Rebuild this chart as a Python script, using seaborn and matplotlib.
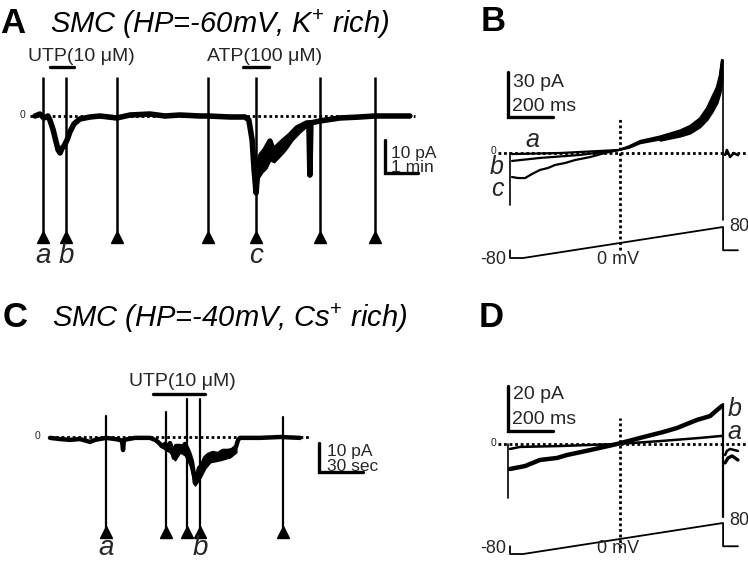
import matplotlib
matplotlib.use("Agg")
import matplotlib.pyplot as plt
import numpy as np
import seaborn as sns

# ---------------- data ----------------
# Panel A: holding current (min, pA)
A_time = [0, 0.15, 0.27, 0.39, 0.45, 0.55, 0.64, 0.70, 0.76, 0.82, 0.88, 0.97, 1.06, 1.18, 1.36,
          1.67, 1.97, 2.48, 2.88, 3.48, 3.94, 4.39, 5.0, 5.24, 5.91, 6.36, 6.48, 6.58, 6.64, 6.70,
          6.76, 6.85, 6.97, 7.12, 7.21, 7.33, 7.52, 7.73, 7.94, 8.24, 8.30, 8.33, 8.36, 8.64, 9.24,
          9.85, 10.30, 10.76, 11.36]
A_curr = [0, 0.6, -0.6, 0, -1.2, -4.2, -7.9, -10.3, -11.2, -9.7, -9.1, -7.3, -4.8, -2.4, -0.9,
          -0.3, 0, -0.6, 0.3, 0.6, 0, 0.3, 0, 0, -0.3, -0.3, -1.2, -7.3, -16.4, -23.3,
          -14.8, -11.8, -10.3, -7.6, -10.3, -9.4, -7.6, -5.8, -3.6, -2.1, -2.1, -17.9, -2.1, -1.5, -0.6,
          -0.3, 0, 0, 0]
# lower edge of the noisy band during the ATP response
A_low_time = [6.70, 6.76, 6.88, 7.00, 7.12, 7.24, 7.36, 7.58, 7.79, 8.03, 8.24]
A_low_curr = [-23.3, -18.8, -17.0, -15.8, -13.3, -13.9, -12.7, -10.3, -7.3, -4.8, -3.0]
A_ramps = [0.24, 0.94, 2.48, 5.24, 6.70, 8.64, 10.30]
A_ramp_labels = ["a", "b", "", "", "c", "", ""]
A_utp = [0.45, 1.18]
A_atp = [6.30, 7.09]

# Panel B: ramp currents (ms, pA)
B_a_t = [9, 222, 484, 530, 578, 667, 756, 800, 844, 876, 898, 920, 933, 942]
B_a_i = [-0.7, 0, 2, 4, 7.3, 10, 14, 16.7, 22, 28.7, 35.3, 42, 50, 60.7]
B_b_t = [9, 133, 311, 484, 530, 578, 667, 756, 800, 844, 876, 898, 920, 933, 942]
B_b_i = [-5.3, -3.3, -1.3, 2, 3.5, 6.5, 9, 13, 16, 21, 27, 33, 40, 48, 57]
B_c_t = [9, 36, 67, 98, 133, 169, 200, 244, 289, 356, 422, 484, 530, 578, 667, 756, 800, 844, 876, 898, 920, 933, 942]
B_c_i = [-16, -16.7, -16.7, -14, -11.3, -10, -8, -6.7, -4.7, -2.7, 0, 2, 4.5, 8, 11, 15, 18, 23, 30, 37, 44, 52, 62]
B_low_t = [667, 756, 800, 844, 876, 898, 920, 933, 942]
B_low_i = [8.5, 11.3, 13.3, 17.5, 22.5, 27.5, 33.5, 40, 48]
B_after_t = [956, 964, 978, 995, 1013]
B_after_i = [-1.3, 2, -2.7, 0, -1.5]

# Panel C: holding current (s, pA)
C_time = [0, 6.8, 13.6, 20.4, 27.3, 30.7, 38.2, 44.3, 47.7, 49.1, 49.8, 50.4, 57.9, 68.2, 71.6,
          73.6, 76.3, 78.4, 80.4, 81.8, 83.2, 84.5, 85.9, 88.6, 90.7, 92.0, 94.1, 95.4, 96.8, 98.2,
          98.8, 100.2, 101.6, 103.6, 105.7, 107.8, 111.1, 114.5, 117.9, 121.3, 124.1, 126.8, 128.2,
          129.5, 143.2, 156.8, 170.4]
C_curr = [-0.3, -0.7, -1.0, -0.7, -1.7, -1.0, -0.3, -0.7, -1.0, -1.4, -4.5, -1.0, -0.3, -0.3, -1.0,
          -1.7, -3.1, -2.4, -3.4, -2.1, -4.1, -7.2, -3.1, -3.1, -3.4, -2.4, -4.5, -6.2, -8.6, -13.4,
          -15.9, -13.4, -10.7, -9.7, -7.2, -6.2, -5.5, -5.9, -4.8, -4.8, -4.5, -3.4, -1.0,
          -0.3, -0.3, 0, -0.3]
C_low_time = [75.0, 81.8, 85.2, 88.6, 92.0, 95.4, 98.8, 102.2, 105.7, 109.1, 115.9, 122.7, 126.8]
C_low_curr = [-3.1, -5.2, -7.9, -5.2, -6.2, -9.7, -16.6, -14.1, -10.7, -8.6, -7.9, -6.9, -5.2]
C_ramps = [38.2, 79.1, 93.4, 102.2, 158.8]
C_ramp_tops = [7.2, 8.6, 13.1, 13.1, 6.9]
C_ramp_labels = ["a", "", "", "b", ""]
C_utp = [70.2, 105.7]

# Panel D: ramp currents (ms, pA)
D_a_t = [0, 44, 222, 476, 667, 844, 942]
D_a_i = [-2.2, -1.3, -0.9, 0, 1.3, 2.7, 3.6]
D_b_t = [0, 67, 133, 209, 253, 356, 476, 578, 680, 742, 831, 889, 920, 942]
D_b_i = [-11.1, -9.8, -7.1, -6.2, -4.9, -2.7, 0, 2.7, 5.3, 7.1, 10.7, 12.4, 15.1, 16.9]
D_a_after_t = [956, 964, 978, 1013]
D_a_after_i = [-4.9, -3.1, -2.2, -3.1]
D_b_after_t = [956, 969, 987, 1013]
D_b_after_i = [-8.4, -6.2, -5.3, -7.1]

# Voltage protocol (ms, mV)
V_time = [0, 0, 58, 947, 947, 1013]
V_mv = [-40, -80, -80, 80, -40, -40]

# ---------------- style ----------------
sns.set_theme(style="white")
plt.rcParams["font.family"] = ["Liberation Sans", "DejaVu Sans"]
plt.rcParams["mathtext.fontset"] = "custom"
plt.rcParams["mathtext.rm"] = "Liberation Sans"
plt.rcParams["mathtext.it"] = "Liberation Sans:italic"

W, H = 748, 565
fig = plt.figure(figsize=(W / 100, H / 100), dpi=100)
fig.patch.set_facecolor("white")
K = "black"
DOT = (0, (1, 1))


def add_ax(px0, px1, py0, py1, xa, xs, ya, ys):
    ax = fig.add_axes([px0 / W, 1 - py1 / H, (px1 - px0) / W, (py1 - py0) / H])
    ax.set_xlim((px0 - xa) / xs, (px1 - xa) / xs)
    ax.set_ylim((ya - py1) / ys, (ya - py0) / ys)
    ax.axis("off")
    ax.patch.set_alpha(0)
    return ax


def trace(ax, x, y, lw):
    sns.lineplot(x=x, y=y, ax=ax, color=K, lw=lw, sort=False, estimator=None,
                 legend=False, solid_joinstyle="round")


def band(ax, x, y, lx, ly):
    upper = np.interp(lx, x, y)
    ax.fill_between(lx, ly, upper, color=K, lw=1.5, edgecolor=K)


def ftext(px, py, s, **kw):
    fig.text(px / W, 1 - py / H, s, color=K, **kw)


# ---------------- titles ----------------
ftext(0, 33, "A", fontsize=25, fontweight="bold", va="baseline")
ftext(50, 33, "SMC (HP=-60mV, K$^{+}$ rich)", fontsize=21, style="italic", va="baseline")
ftext(481, 31, "B", fontsize=25, fontweight="bold", va="baseline")
ftext(3, 327, "C", fontsize=25, fontweight="bold", va="baseline")
ftext(52, 327, "SMC (HP=-40mV, Cs$^{+}$ rich)", fontsize=21, style="italic", va="baseline")
ftext(479, 327, "D", fontsize=25, fontweight="bold", va="baseline")

# ---------------- panel A ----------------
axA = add_ax(0, 480, 40, 290, 35, 33, 116, 3.3)
axA.plot([-0.15, 11.5], [0, 0], color=K, lw=2, ls=DOT)
trace(axA, A_time, A_curr, 4)
band(axA, A_time, A_curr, A_low_time, A_low_curr)
axA.vlines(A_ramps, -35.2, 11.8, color=K, lw=1.8)
axA.plot(A_ramps, [-36.7] * len(A_ramps), ls="none", marker="^", ms=8, color=K)
for t, lab in zip(A_ramps, A_ramp_labels):
    if lab:
        axA.text(t, -42.3, lab, fontsize=20, style="italic", ha="center", va="center")
axA.text(-0.38, 0.3, "0", fontsize=7.5, ha="center", va="center")
axA.plot(A_utp, [14.8, 14.8], color=K, lw=2.4)
axA.text(1.42, 17.9, "UTP(10 μM)", fontsize=14, ha="center", va="center")
axA.plot(A_atp, [14.8, 14.8], color=K, lw=2.4)
axA.text(6.97, 17.9, "ATP(100 μM)", fontsize=14, ha="center", va="center")
axA.plot([10.61, 10.61, 11.61], [-7.3, -17.3, -17.3], color=K, lw=2.4, solid_joinstyle="miter")
axA.text(10.79, -12.6, "10 pA", fontsize=12.5, ha="left", va="baseline")
axA.text(10.79, -16.9, "1 min", fontsize=12.5, ha="left", va="baseline")

# ---------------- panel B ----------------
axB = add_ax(480, 748, 40, 285, 510, 0.225, 153, 1.5)
axB.plot([-53, 1060], [0, 0], color=K, lw=2, ls=DOT)
axB.plot([489, 489], [-64.7, 23.3], color=K, lw=2, ls=DOT)
trace(axB, B_a_t, B_a_i, 1.6)
trace(axB, B_b_t, B_b_i, 1.6)
trace(axB, B_c_t, B_c_i, 1.6)
band(axB, B_c_t, B_c_i, B_low_t, B_low_i)
axB.plot([0, 0], [0, -34.7], color=K, lw=1.2)
axB.plot([947, 947], [62, -44.7], color=K, lw=1.2)
trace(axB, B_after_t, B_after_i, 1.8)
axB.text(-73, 1.5, "0", fontsize=7.5, ha="center", va="center")
axB.plot([-8.9, -8.9, 191], [54, 24, 24], color=K, lw=2.4, solid_joinstyle="miter")
axB.text(13, 47.3, "30 pA", fontsize=14, ha="left", va="center")
axB.text(9, 31.3, "200 ms", fontsize=14, ha="left", va="center")
axB.text(98, 8.5, "a", fontsize=18, style="italic", ha="center", va="center")
axB.text(-58, -9.5, "b", fontsize=18, style="italic", ha="center", va="center")
axB.text(-58, -24, "c", fontsize=18, style="italic", ha="center", va="center")

axBv = add_ax(480, 748, 40, 285, 510, 0.225, 242.5, 0.194)
sns.lineplot(x=V_time, y=V_mv, ax=axBv, color=K, lw=1.3, sort=False, estimator=None)
axBv.text(-16, -90, "-80", fontsize=13, ha="right", va="center")
axBv.text(975, 80, "80", fontsize=13, ha="left", va="center")
axBv.text(480, -90, "0 mV", fontsize=13, ha="center", va="center")

# ---------------- panel C ----------------
axC = add_ax(0, 480, 330, 565, 50, 1.467, 437, 2.9)
axC.plot([0, 177], [0, 0], color=K, lw=2, ls=DOT)
trace(axC, C_time, C_curr, 3.2)
band(axC, C_time, C_curr, C_low_time, C_low_curr)
for t, top in zip(C_ramps, C_ramp_tops):
    axC.plot([t, t], [-31.4, top], color=K, lw=1.6)
axC.plot(C_ramps, [-32.8] * len(C_ramps), ls="none", marker="^", ms=8, color=K)
for t, lab in zip(C_ramps, C_ramp_labels):
    if lab:
        axC.text(t, -38.3, lab, fontsize=20, style="italic", ha="center", va="center")
axC.text(-8.2, 0.3, "0", fontsize=7.5, ha="center", va="center")
axC.plot(C_utp, [14.8, 14.8], color=K, lw=2.4)
axC.text(90, 19, "UTP(10 μM)", fontsize=14, ha="center", va="center")
axC.plot([183.4, 183.4, 213.4], [-2.1, -12.1, -12.1], color=K, lw=2.4, solid_joinstyle="miter")
axC.text(188.8, -6.6, "10 pA", fontsize=12.5, ha="left", va="baseline")
axC.text(188.8, -11.6, "30 sec", fontsize=12.5, ha="left", va="baseline")

# ---------------- panel D ----------------
axD = add_ax(480, 748, 330, 565, 510, 0.225, 444, 2.25)
axD.plot([-53, 1060], [0, 0], color=K, lw=2, ls=DOT)
axD.plot([489, 489], [-46.2, 11.6], color=K, lw=2, ls=DOT)
trace(axD, D_a_t, D_a_i, 1.8)
trace(axD, D_b_t, D_b_i, 3.2)
axD.plot([-8.9, -8.9], [0, -24], color=K, lw=1.2)
axD.plot([947, 947], [17.8, -32.4], color=K, lw=1.6)
trace(axD, D_a_after_t, D_a_after_i, 1.8)
trace(axD, D_b_after_t, D_b_after_i, 2.4)
axD.text(-73, 0.5, "0", fontsize=7.5, ha="center", va="center")
axD.plot([-8.9, -8.9, 191], [25.8, 5.8, 5.8], color=K, lw=2.4, solid_joinstyle="miter")
axD.text(13, 22.2, "20 pA", fontsize=14, ha="left", va="center")
axD.text(9, 10.7, "200 ms", fontsize=14, ha="left", va="center")
axD.text(1000, 15.6, "b", fontsize=18, style="italic", ha="center", va="center")
axD.text(996, 5.3, "a", fontsize=18, style="italic", ha="center", va="center")

axDv = add_ax(480, 748, 330, 565, 510, 0.225, 538.5, 0.194)
sns.lineplot(x=V_time, y=V_mv, ax=axDv, color=K, lw=1.3, sort=False, estimator=None)
axDv.text(-16, -54, "-80", fontsize=13, ha="right", va="center")
axDv.text(975, 92, "80", fontsize=13, ha="left", va="center")
axDv.text(480, -49, "0 mV", fontsize=13, ha="center", va="center")

fig.savefig("out.png", dpi=100, facecolor="white")
